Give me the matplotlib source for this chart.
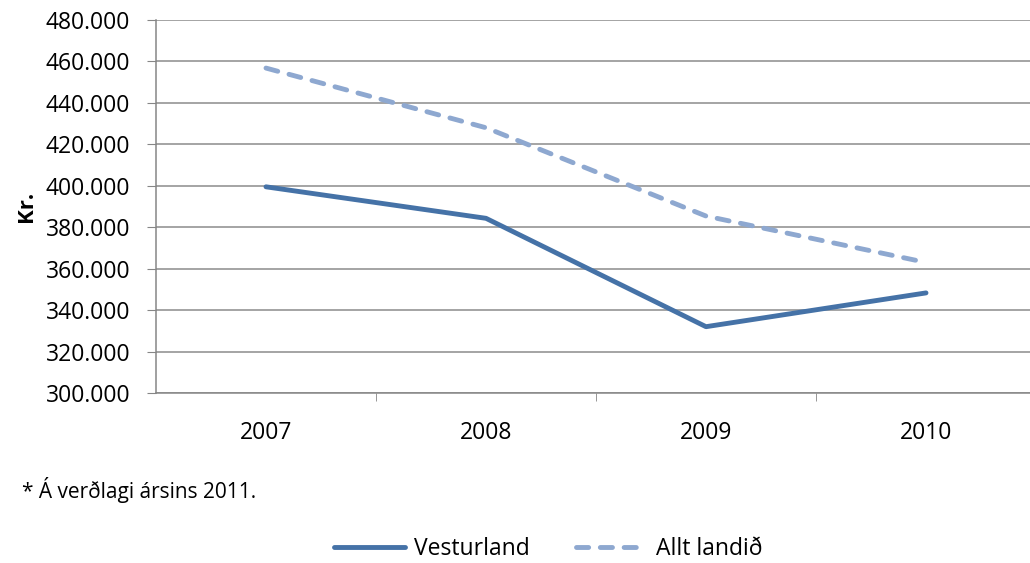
import matplotlib.pyplot as plt
from matplotlib.ticker import FuncFormatter

plt.rcParams['font.family'] = ['Open Sans', 'DejaVu Sans']

# gögn
years = ['2007', '2008', '2009', '2010']
vesturland = [399500, 384300, 332000, 348300]
allt_landid = [456800, 428000, 385400, 363000]

fig = plt.figure(figsize=(10.30, 5.63), dpi=100)
ax = fig.add_axes([156 / 1030, 1 - 393 / 563, 880 / 1030, 373 / 563])

x = range(len(years))
ax.plot(x, vesturland, color='#4572A7', lw=3.5, solid_capstyle='round', label='Vesturland')
ax.plot(x, allt_landid, color='#8EA8D0', lw=3.5, dashes=(2.5, 2.4), dash_capstyle='round', label='Allt landið')

ax.set_xlim(-0.5, 3.5)
ax.set_ylim(300000, 480000)
ax.set_yticks(range(300000, 480001, 20000))
ax.yaxis.set_major_formatter(FuncFormatter(lambda v, p: f'{int(v):,}'.replace(',', '.')))
ax.set_xticks(list(x))
ax.set_xticklabels(years)
ax.set_xticks([0.5, 1.5, 2.5], minor=True)
ax.tick_params(axis='x', which='major', length=0, pad=20, labelsize=16.5)
ax.tick_params(axis='x', which='minor', length=6, color='#868686')
ax.tick_params(axis='y', length=6.5, color='#868686', labelsize=16.5, pad=12)
ax.grid(axis='y', color='#8c8c8c', lw=1.1)
ax.set_axisbelow(True)
for s in ['top', 'right']:
    ax.spines[s].set_visible(False)
ax.spines['left'].set_color('#868686')
ax.spines['bottom'].set_color('#868686')
ax.spines['left'].set_linewidth(1.1)
ax.spines['bottom'].set_linewidth(1.1)

ax.set_ylabel('Kr.', fontsize=16, fontweight='bold', labelpad=6)

fig.text(22 / 1030, 1 - 490 / 563, '* Á verðlagi ársins 2011.', fontsize=15, va='center')

fig.legend(loc='center', bbox_to_anchor=(548 / 1030, 1 - 549 / 563), ncol=2, frameon=False,
           fontsize=16.5, handlelength=3.1, columnspacing=2.0, handletextpad=0.4)

fig.savefig('out.png', dpi=100)
